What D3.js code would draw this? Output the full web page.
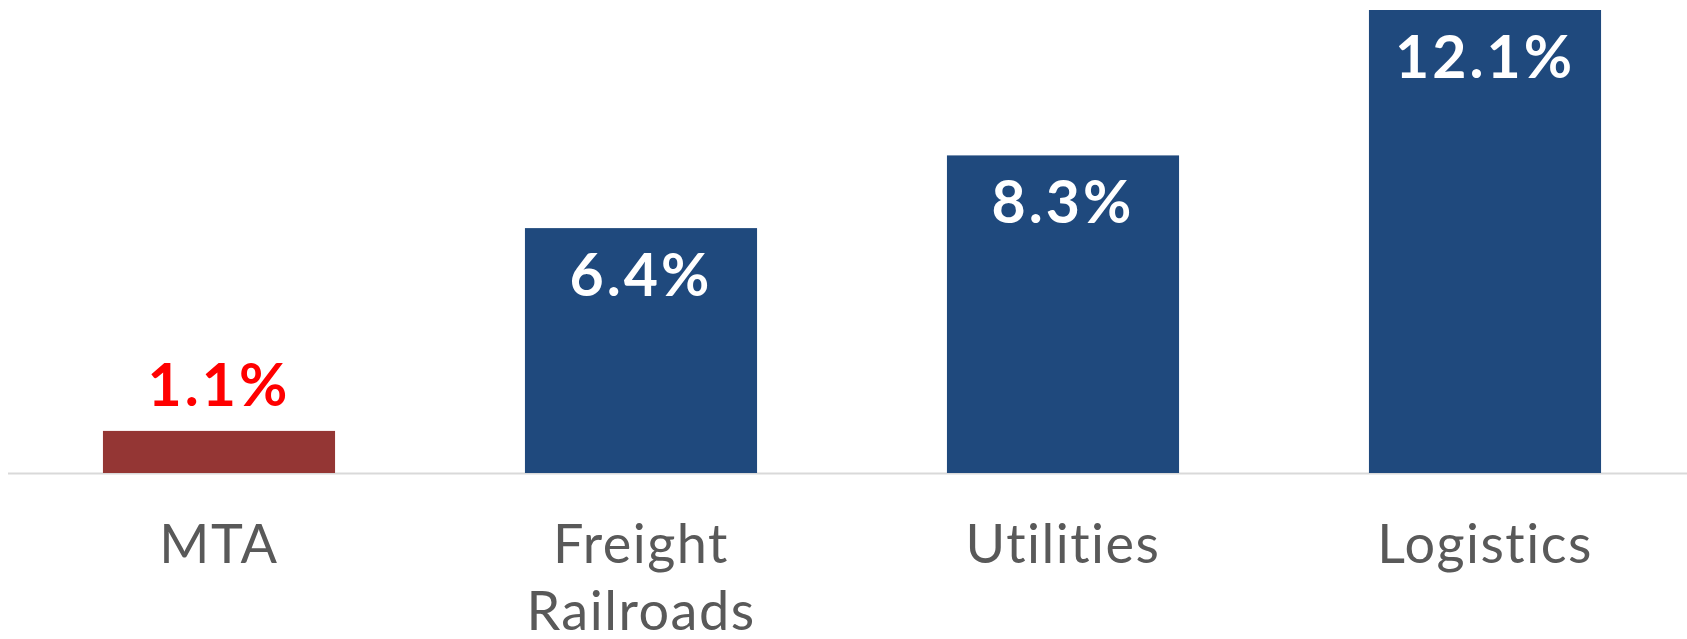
<!DOCTYPE html>
<html>
<head>
<meta charset="utf-8">
<script src="https://cdn.jsdelivr.net/npm/d3@7"></script>
<style>
  body { margin: 0; background: #fff; }
  svg text { font-family: Lato, "Open Sans", sans-serif; }
</style>
</head>
<body>
<svg id="chart" width="1687" height="639"></svg>
<script>
// data
const categories = ["MTA", "Freight\nRailroads", "Utilities", "Logistics"];
const values = [1.1, 6.4, 8.3, 12.1];
const highlight = ["MTA"]; // drawn in red

const svg = d3.select("#chart"),
    width = +svg.attr("width"),
    height = +svg.attr("height");

const x = d3.scaleBand()
    .domain(categories)
    .range([8, 1696])
    .paddingInner(0.45)
    .paddingOuter(0.225);

const y = d3.scaleLinear()
    .domain([0, 12.1])
    .range([473, 10]);

const data = categories.map((c, i) => ({ cat: c, v: values[i], hi: highlight.includes(c) }));

// baseline
svg.append("line")
    .attr("x1", 8).attr("x2", width)
    .attr("y1", y(0) + 0.5).attr("y2", y(0) + 0.5)
    .attr("stroke", "#d9d9d9")
    .attr("stroke-width", 2);

svg.selectAll("rect.bar")
  .data(data)
  .enter().append("rect")
    .attr("class", "bar")
    .attr("x", d => x(d.cat))
    .attr("width", x.bandwidth())
    .attr("y", d => y(d.v))
    .attr("height", d => y(0) - y(d.v))
    .attr("fill", d => d.hi ? "#943634" : "#1f497d");

// value labels: above the red bar, inside the blue ones
svg.selectAll("text.val")
  .data(data)
  .enter().append("text")
    .attr("class", "val")
    .attr("x", d => x(d.cat) + x.bandwidth() / 2)
    .attr("y", d => d.hi ? y(d.v) - 25 : y(d.v) + 68)
    .attr("text-anchor", "middle")
    .attr("font-size", 59)
    .attr("font-weight", 700)
    .attr("letter-spacing", 3)
    .attr("fill", d => d.hi ? "#ff0000" : "#ffffff")
    .text(d => d.v.toFixed(1) + "%");

// category labels
const cat = svg.selectAll("text.cat")
  .data(data)
  .enter().append("text")
    .attr("class", "cat")
    .attr("text-anchor", "middle")
    .attr("font-size", 54)
    .attr("letter-spacing", 1.5)
    .attr("fill", "#595959");

cat.selectAll("tspan")
  .data(d => d.cat.split("\n").map(s => ({ s, cx: x(d.cat) + x.bandwidth() / 2 })))
  .enter().append("tspan")
    .attr("x", t => t.cx)
    .attr("y", (t, i) => 563 + i * 67)
    .text(t => t.s);
</script>
</body>
</html>
